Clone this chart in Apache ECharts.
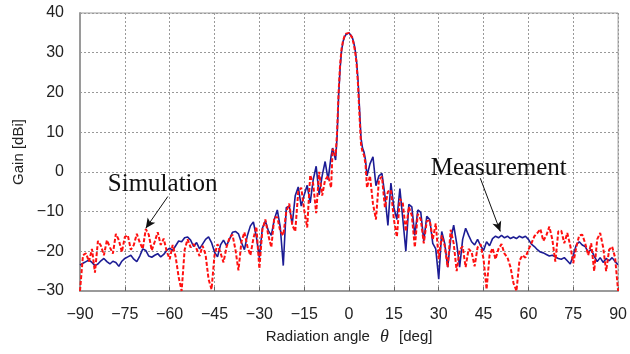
<!DOCTYPE html>
<html><head><meta charset="utf-8">
<script src="https://cdn.jsdelivr.net/npm/echarts@6/dist/echarts.min.js"></script>
<style>html,body{margin:0;padding:0;background:#fff}#c{width:630px;height:354px}</style>
</head><body><div id="c"></div>
<script>
const angles = [-90,-89,-88,-87,-86,-85,-84,-83,-82,-81,-80,-79,-78,-77,-76,-75,-74,-73,-72,-71,-70,-69,-68,-67,-66,-65,-64,-63,-62,-61,-60,-59,-58,-57,-56,-55,-54,-53,-52,-51,-50,-49,-48,-47,-46,-45,-44,-43,-42,-41,-40,-39,-38,-37,-36,-35,-34,-33,-32,-31,-30,-29,-28,-27,-26,-25,-24,-23,-22,-21,-20,-19,-18,-17,-16,-15,-14,-13,-12,-11,-10,-9,-8,-7,
-6,-5.5,-5,-4.5,-4,-3.5,-3,-2.5,-2,-1.5,-1,-0.5,0,0.5,1,1.5,2,2.5,3,3.5,4,4.5,5,5.5,6,
7,8,9,10,11,12,13,14,15,16,17,18,19,20,21,22,23,24,25,26,27,28,29,30,31,32,33,34,35,36,37,38,39,40,41,42,43,44,45,46,47,48,49,50,51,52,53,54,55,56,57,58,59,60,61,62,63,64,65,66,67,68,69,70,71,72,73,74,75,76,77,78,79,80,81,82,83,84,85,86,87,88,89,90];

const measurement = [-23.5,-23,-22.6,-22.2,-22.8,-23.6,-23.2,-22.4,-21.8,-22.6,-23.2,-22.5,-22.8,-23.8,-22.5,-21.8,-21.4,-21.0,-22.0,-22.6,-21.2,-19.4,-19.8,-21.2,-21.5,-21.0,-20.6,-21.4,-20.8,-19.8,-19.2,-19.8,-18.6,-17.4,-17.6,-16.6,-16.4,-17.2,-18.8,-17.8,-19.4,-18.2,-17.0,-16.4,-17.8,-20.2,-21.4,-18.4,-17.2,-18.6,-17.0,-15.2,-15.0,-15.6,-17.8,-19.6,-16.0,-13.6,-12.6,-16.4,-21.6,-14.2,-12.4,-14.8,-16.0,-12.0,-9.6,-14.0,-23.6,-9.0,-8.6,-13.2,-6.0,-3.8,-8.6,-5.8,-3.4,-7.8,-2.0,1.4,-5.8,-1.0,2.6,-2.0,
4.0,6.0,4.5,3.0,9.0,19.0,26.0,30.5,32.8,34.0,34.6,34.9,35.0,34.7,34.0,32.8,31.0,28.0,23.0,16.0,8.5,6.0,5.0,3.0,-1.0,
2.0,3.8,-3.5,-1.0,-0.4,-6.0,-13.5,-2.8,-9.0,-12.0,-4.2,-12.0,-20.0,-8.2,-8.8,-16.0,-9.6,-10.2,-17.4,-11.2,-12.0,-18.0,-19.4,-27.0,-15.0,-18.0,-24.0,-17.0,-13.4,-18.0,-24.0,-17.0,-14.2,-16.0,-17.6,-18.4,-17.0,-18.6,-19.8,-17.6,-18.6,-16.8,-16.2,-16.6,-16.0,-16.6,-16.2,-16.8,-16.4,-16.8,-16.2,-16.6,-16.2,-17.0,-18.2,-18.8,-19.6,-20.2,-20.4,-20.8,-21.2,-21.0,-21.4,-21.8,-22.0,-21.6,-22.4,-23.2,-21.0,-18.4,-17.6,-18.4,-18.8,-20.2,-19.6,-21.2,-22.6,-21.6,-22.8,-21.8,-22.4,-21.6,-22.6,-23.4];

const simulation = [-30,-21,-20.5,-22.6,-19.4,-25.4,-17.4,-18.6,-21.0,-17.2,-19.0,-20.6,-15.6,-17.2,-20.2,-16.4,-16.0,-19.6,-18.4,-15.6,-17.8,-19.4,-14.4,-15.8,-19.8,-17.6,-15.2,-18.4,-16.8,-20.0,-22.0,-18.4,-21.4,-26.5,-30.0,-19.6,-17.0,-19.0,-18.2,-19.4,-21.2,-18.6,-20.8,-27.0,-29.6,-21.0,-18.2,-20.4,-22.8,-19.0,-16.6,-15.8,-19.6,-24.8,-17.6,-15.2,-18.8,-21.0,-16.8,-13.8,-24.4,-14.6,-12.0,-16.0,-19.0,-11.4,-11.4,-15.0,-16.0,-10.0,-8.0,-13.4,-15.0,-5.0,-4.0,-9.6,-14.0,-0.8,-3.0,-10.4,0.0,-6.0,-2.0,-1.0,
-4.0,5.8,5.0,4.0,10.0,20.0,27.0,31.0,33.0,34.2,34.8,35.0,35.0,34.6,33.8,32.4,30.4,27.4,22.0,14.0,7.0,5.0,4.2,2.0,-4.0,
-1.0,-8.0,-12.0,-2.0,-1.2,-9.0,-5.0,-4.6,-12.0,-16.4,-6.8,-8.0,-15.0,-8.8,-11.0,-19.0,-10.6,-12.0,-18.0,-12.4,-12.2,-17.0,-13.0,-22.0,-16.0,-18.6,-24.0,-14.6,-18.0,-25.0,-19.6,-18.8,-24.0,-19.4,-20.2,-23.8,-19.0,-18.2,-22.0,-29.6,-21.0,-19.2,-22.0,-19.4,-18.2,-20.6,-21.6,-24.0,-28.0,-30.0,-22.4,-21.0,-21.6,-19.6,-18.0,-16.2,-15.4,-14.4,-17.4,-16.0,-13.8,-17.0,-22.6,-15.0,-14.8,-18.0,-15.4,-18.6,-23.0,-19.0,-16.0,-15.8,-18.0,-21.0,-18.0,-25.0,-17.0,-15.4,-19.0,-25.0,-19.6,-18.8,-21.6,-30.0];

const xTicks = {min: -90, max: 90, step: 15};
const yTicks = {min: -30, max: 40, step: 10};

// annotation anchors in data coordinates
const simLabel = {text: 'Simulation', at: [-80.7, -3.2], arrowFrom: [-60.6, -6.2], arrowTo: [-68, -14.2]};
const measLabel = {text: 'Measurement', at: [27.3, 0.8], arrowFrom: [43.9, -1.6], arrowTo: [50.6, -15.0]};

const minus = v => String(v).replace('-', '\u2212');
const chart = echarts.init(document.getElementById('c'), null, {renderer: 'canvas'});
const axisGray = '#9a9a9a';
const tickFont = {fontFamily: 'Liberation Sans, Arial, sans-serif', fontSize: 16, color: '#222'};

chart.setOption({
  animation: false,
  backgroundColor: '#fff',
  grid: {left: 80, right: 10, top: 13, bottom: 63, show: true, borderColor: axisGray, borderWidth: 1},
  xAxis: {
    type: 'value', min: xTicks.min, max: xTicks.max, interval: xTicks.step,
    name: '{n|Radiation angle }{t|θ}{n| [deg]}', nameLocation: 'middle', nameGap: 34,
    nameTextStyle: {rich: {n: {fontFamily: 'Liberation Sans, Arial, sans-serif', fontSize: 15, color: '#222'},
                           t: {fontFamily: 'Liberation Serif, serif', fontStyle: 'italic', fontSize: 18, color: '#222', padding: [0, 6, 0, 6]}}},
    axisLine: {onZero: false, lineStyle: {color: axisGray, width: 2}},
    axisTick: {inside: true, length: 4, lineStyle: {color: '#666'}},
    axisLabel: Object.assign({margin: 16, formatter: minus}, tickFont),
    splitLine: {show: true, lineStyle: {color: '#999', type: [2, 2], width: 1}}
  },
  yAxis: {
    type: 'value', min: yTicks.min, max: yTicks.max, interval: yTicks.step,
    name: 'Gain [dBi]', nameLocation: 'middle', nameGap: 53, nameRotate: 90,
    nameTextStyle: {fontFamily: 'Liberation Sans, Arial, sans-serif', fontSize: 15, color: '#222'},
    axisLine: {show: true, onZero: false, lineStyle: {color: axisGray, width: 2}},
    axisTick: {show: false},
    axisLabel: Object.assign({margin: 16, formatter: minus}, tickFont),
    splitLine: {show: true, lineStyle: {color: '#999', type: [2, 2], width: 1}}
  },
  series: [
    {
      name: 'Measurement', type: 'line', showSymbol: false, symbol: 'none',
      data: angles.map((a, i) => [a, measurement[i]]),
      lineStyle: {color: '#1c1c94', width: 1.6}, z: 2,
      markLine: {
        silent: true, symbol: ['none', 'arrow'], symbolSize: [7, 10],
        label: {show: false},
        lineStyle: {color: '#111', width: 1, type: 'solid'},
        data: [
          [{coord: simLabel.arrowFrom}, {coord: simLabel.arrowTo}],
          [{coord: measLabel.arrowFrom}, {coord: measLabel.arrowTo}]
        ]
      }
    },
    {
      name: 'Simulation', type: 'line', showSymbol: false, symbol: 'none',
      data: angles.map((a, i) => [a, simulation[i]]),
      lineStyle: {color: '#ff1010', width: 2, type: [4, 2]}, z: 3
    }
  ]
});

function place(lbl) {
  const p = chart.convertToPixel({gridIndex: 0}, lbl.at);
  return {type: 'text', x: p[0], y: p[1], z: 10,
    style: {text: lbl.text, font: '25px "Liberation Serif", "Times New Roman", serif', fill: '#111', align: 'left', verticalAlign: 'middle'}};
}
chart.setOption({graphic: [place(simLabel), place(measLabel)]});
</script>
</body></html>
